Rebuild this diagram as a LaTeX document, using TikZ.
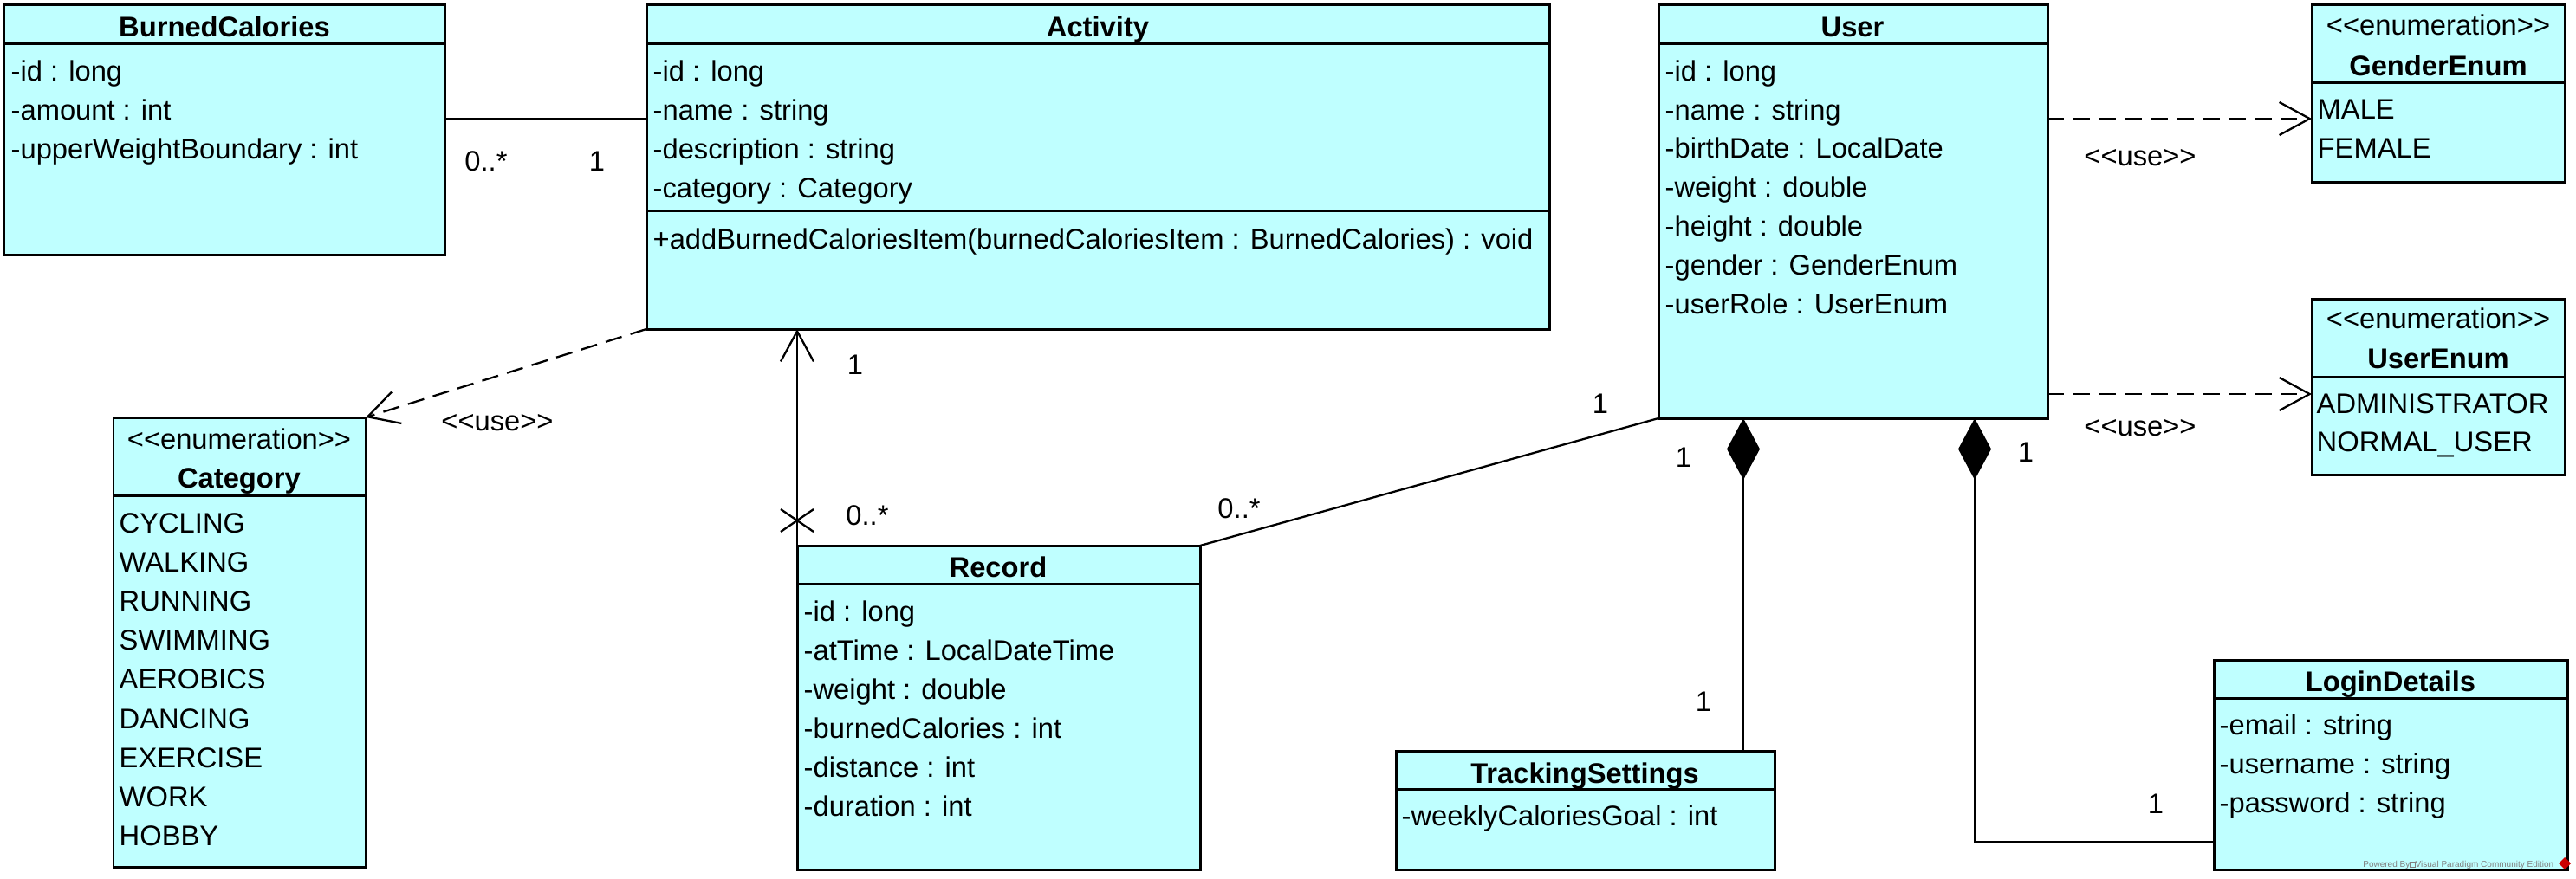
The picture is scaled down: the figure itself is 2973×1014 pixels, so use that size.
\documentclass[tikz,border=0pt]{standalone}
\usepackage{fontspec}
\setmainfont{Liberation Sans}
\usetikzlibrary{arrows.meta,fit,calc}
\definecolor{umlfill}{RGB}{191,255,255}
\newcommand{\stL}{<\kern0pt<}
\newcommand{\stR}{>\kern0pt>}
\begin{document}
\begin{tikzpicture}[x=0.01cm,y=-0.01cm,
  font=\fontsize{9.3}{11}\selectfont,
  classbox/.style={draw=black, line width=0.85pt, fill=umlfill, inner sep=0pt, outer sep=0pt, rectangle},
  sepline/.style={line width=0.85pt},
  attr/.style={anchor=base west, inner sep=0pt},
  ctitle/.style={anchor=base, inner sep=0pt, font=\fontsize{9.3}{11}\selectfont\bfseries},
  stereo/.style={anchor=base, inner sep=0pt},
  lbl/.style={anchor=base, inner sep=0pt},
  conn/.style={line width=0.65pt},
  openhead/.tip={Straight Barb[length=0.35cm,width=0.38cm]},
  dep/.style={conn, dash pattern=on 5.5pt off 3pt, -openhead},
  comp/.style={conn, {Diamond[length=0.71cm,width=0.38cm]}-},
]
\useasboundingbox (0,0) rectangle (2973,1014);

% ---------- BurnedCalories
\node[classbox, fit={(5,5)(513,294)}] (burned) {};
\draw[sepline] (5,50) -- (513,50);
\node[ctitle] (burnedT) at (259,42) {BurnedCalories};
\node[attr] (burned1) at (12,93) {-id : long};
\node[attr] (burned2) at (12,138) {-amount : int};
\node[attr] (burned3) at (12,183) {-upperWeightBoundary : int};

% ---------- Activity
\node[classbox, fit={(746,5)(1788,380)}] (activity) {};
\draw[sepline] (746,50) -- (1788,50);
\draw[sepline] (746,243) -- (1788,243);
\node[ctitle] (activityT) at (1267,42) {Activity};
\node[attr] (activity1) at (753,93) {-id : long};
\node[attr] (activity2) at (753,138) {-name : string};
\node[attr] (activity3) at (753,183) {-description : string};
\node[attr] (activity4) at (753,228) {-category : Category};
\node[attr] (activity5) at (753,287) {+addBurnedCaloriesItem(burnedCaloriesItem : BurnedCalories) : void};

% ---------- User
\node[classbox, fit={(1914,5)(2363,483)}] (user) {};
\draw[sepline] (1914,50) -- (2363,50);
\node[ctitle] (userT) at (2138,42) {User};
\node[attr] (user1) at (1921,93) {-id : long};
\node[attr] (user2) at (1921,138) {-name : string};
\node[attr] (user3) at (1921,182) {-birthDate : LocalDate};
\node[attr] (user4) at (1921,227) {-weight : double};
\node[attr] (user5) at (1921,272) {-height : double};
\node[attr] (user6) at (1921,317) {-gender : GenderEnum};
\node[attr] (user7) at (1921,362) {-userRole : UserEnum};

% ---------- GenderEnum
\node[classbox, fit={(2668,5)(2960,210)}] (genderenum) {};
\draw[sepline] (2668,95) -- (2960,95);
\node[stereo] (genderS) at (2814,40) {\stL enumeration\stR};
\node[ctitle] (genderT) at (2814,87) {GenderEnum};
\node[attr] (gender1) at (2674,137) {MALE};
\node[attr] (gender2) at (2674,182) {FEMALE};

% ---------- UserEnum
\node[classbox, fit={(2668,345)(2960,548)}] (userenum) {};
\draw[sepline] (2668,435) -- (2960,435);
\node[stereo] (userenumS) at (2814,379) {\stL enumeration\stR};
\node[ctitle] (userenumT) at (2814,425) {UserEnum};
\node[attr] (userenum1) at (2673,477) {ADMINISTRATOR};
\node[attr] (userenum2) at (2673,521) {NORMAL\_USER};

% ---------- Category
\node[classbox, fit={(131,482)(422,1001)}] (category) {};
\draw[sepline] (131,572) -- (422,572);
\node[stereo] (categoryS) at (276,518) {\stL enumeration\stR};
\node[ctitle] (categoryT) at (276,563) {Category};
\node[attr] (cat1) at (137,615) {CYCLING};
\node[attr] (cat2) at (137,660) {WALKING};
\node[attr] (cat3) at (137,705) {RUNNING};
\node[attr] (cat4) at (137,750) {SWIMMING};
\node[attr] (cat5) at (137,795) {AEROBICS};
\node[attr] (cat6) at (137,841) {DANCING};
\node[attr] (cat7) at (137,886) {EXERCISE};
\node[attr] (cat8) at (137,931) {WORK};
\node[attr] (cat9) at (137,976) {HOBBY};

% ---------- Record
\node[classbox, fit={(920,630)(1385,1004)}] (record) {};
\draw[sepline] (920,674) -- (1385,674);
\node[ctitle] (recordT) at (1152,666) {Record};
\node[attr] (record1) at (927,717) {-id : long};
\node[attr] (record2) at (927,762) {-atTime : LocalDateTime};
\node[attr] (record3) at (927,807) {-weight : double};
\node[attr] (record4) at (927,852) {-burnedCalories : int};
\node[attr] (record5) at (927,897) {-distance : int};
\node[attr] (record6) at (927,942) {-duration : int};

% ---------- TrackingSettings
\node[classbox, fit={(1611,867)(2048,1004)}] (ts) {};
\draw[sepline] (1611,911) -- (2048,911);
\node[ctitle] (tsT) at (1829,904) {TrackingSettings};
\node[attr] (ts1) at (1617,953) {-weeklyCaloriesGoal : int};

% ---------- LoginDetails
\node[classbox, fit={(2555,762)(2963,1004)}] (login) {};
\draw[sepline] (2555,806) -- (2963,806);
\node[ctitle] (loginT) at (2759,798) {LoginDetails};
\node[attr] (login1) at (2561,848) {-email : string};
\node[attr] (login2) at (2561,893) {-username : string};
\node[attr] (login3) at (2561,938) {-password : string};

% ---------- connectors
\draw[conn] (burned.east |- 0,137) -- (activity.west |- 0,137);
\node[lbl] (l1) at (561,197) {0..*};
\node[lbl] (l2) at (689,197) {1};

\draw[dep] (activity.south west) -- (category.north east);
\node[lbl] (l3) at (574,497) {\stL use\stR};

\draw[conn, openhead-] (activity.south -| record.west) -- (record.north west);
\draw[conn] ($(record.north west)+(-19,-42)$) -- ($(record.north west)+(19,-16)$);
\draw[conn] ($(record.north west)+(-19,-16)$) -- ($(record.north west)+(19,-42)$);
\node[lbl] (l4) at (987,432) {1};
\node[lbl] (l5) at (1001,606) {0..*};

\draw[conn] (record.north east) -- (user.south west);
\node[lbl] (l6) at (1430,598) {0..*};
\node[lbl] (l7) at (1847,477) {1};

\draw[comp] (user.south -| 2012,0) -- (ts.north -| 2012,0);
\node[lbl] (l8) at (1943,539) {1};
\node[lbl] (l9) at (1966,821) {1};

\coordinate (bend) at (2279,972);
\draw[comp] (user.south -| bend) -- (bend) -- (login.west |- bend);
\node[lbl] (l10) at (2338,533) {1};
\node[lbl] (l11) at (2488,939) {1};

\draw[dep] (user.east |- 0,137) -- (genderenum.west |- 0,137);
\node[lbl] (l12) at (2470,191) {\stL use\stR};
\draw[dep] (user.east |- 0,455) -- (userenum.west |- 0,455);
\node[lbl] (l13) at (2470,503) {\stL use\stR};

% ---------- watermark
\node[anchor=base east, inner sep=0pt, text=black!50, font=\fontsize{2.85}{3}\selectfont] (powered) at (2948,1001)
  {Powered By{\setlength\fboxsep{0pt}\setlength\fboxrule{0.1pt}\fbox{\phantom{n}}}Visual Paradigm Community Edition};
\fill[red!80!black] (2953,997) -- (2960,990) -- (2967,997) -- (2960,1004) -- cycle;
\end{tikzpicture}
\end{document}
